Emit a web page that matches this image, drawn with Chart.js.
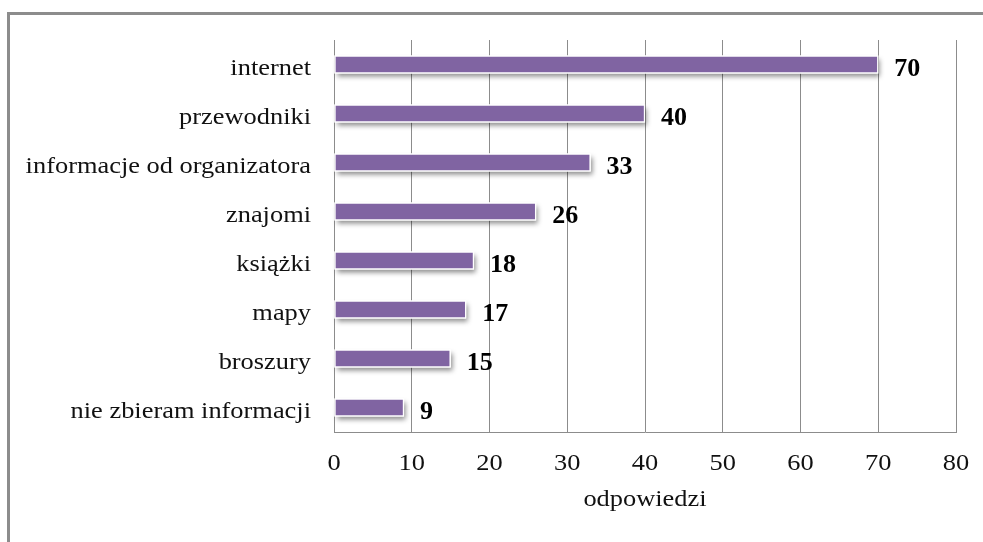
<!DOCTYPE html>
<html>
<head>
<meta charset="utf-8">
<script src="https://cdn.jsdelivr.net/npm/chart.js@4/dist/chart.umd.min.js"></script>
<style>
  html, body { margin: 0; padding: 0; background: #fff; overflow: hidden; }
  #wrap { position: relative; width: 983px; height: 542px; }
  #myChart { position: absolute; left: 0; top: 0; }
  #frame { position: absolute; left: 7px; top: 12px; width: 1000px; height: 600px;
           border-left: 3px solid #8c8c8c; border-top: 3px solid #8c8c8c; pointer-events: none; }
</style>
</head>
<body>
<div id="wrap">
  <canvas id="myChart" width="983" height="542"></canvas>
  <div id="frame"></div>
</div>
<script>
var categories = ['internet', 'przewodniki', 'informacje od organizatora', 'znajomi', 'książki', 'mapy', 'broszury', 'nie zbieram informacji'];
var answers = [70, 40, 33, 26, 18, 17, 15, 9];
var axisTitle = 'odpowiedzi';

var serif = "'Liberation Serif', 'Times New Roman', serif";
var textColor = '#111';
var stretch = 1.1; // the original text is a bit wider than Times

function stretchedText(ctx, text, x, y, sx, align) {
    ctx.save();
    ctx.translate(x, y);
    ctx.scale(sx, 1);
    ctx.textAlign = align;
    ctx.textBaseline = 'alphabetic';
    ctx.fillText(text, 0, 0);
    ctx.restore();
}

// soft shadow under each bar, drawn before the bars themselves
var barShadow = {
    id: 'barShadow',
    beforeDatasetsDraw: function(chart) {
        var ctx = chart.ctx;
        var meta = chart.getDatasetMeta(0);
        ctx.save();
        ctx.shadowColor = 'rgba(0,0,0,0.45)';
        ctx.shadowBlur = 5;
        ctx.shadowOffsetX = 2;
        ctx.shadowOffsetY = 3;
        ctx.fillStyle = '#fff';
        meta.data.forEach(function(bar) {
            var h = bar.height;
            ctx.fillRect(bar.base, bar.y - h / 2, bar.x - bar.base, h);
        });
        ctx.restore();
    }
};

// axis labels, title and bold values
var texts = {
    id: 'texts',
    afterDraw: function(chart) {
        var ctx = chart.ctx;
        var xs = chart.scales.x;
        var ys = chart.scales.y;
        ctx.save();
        ctx.fillStyle = textColor;
        ctx.font = "24px " + serif;
        categories.forEach(function(c, i) {
            stretchedText(ctx, c, ys.right - 23, ys.getPixelForTick(i) + 10, stretch, 'right');
        });
        xs.ticks.forEach(function(t, i) {
            stretchedText(ctx, String(t.value), xs.getPixelForTick(i), xs.top + 38, stretch, 'center');
        });
        stretchedText(ctx, axisTitle, (xs.left + xs.right) / 2, xs.top + 74, stretch, 'center');

        ctx.fillStyle = '#000';
        ctx.font = "bold 26px " + serif;
        chart.getDatasetMeta(0).data.forEach(function(bar, i) {
            stretchedText(ctx, String(answers[i]), bar.x + 16, bar.y + 11, 1, 'left');
        });
        ctx.restore();
    }
};

var ctx = document.getElementById('myChart');
var myChart = new Chart(ctx, {
    type: 'bar',
    data: {
        labels: categories,
        datasets: [{
            data: answers,
            backgroundColor: '#8064a2',
            borderColor: '#ffffff',
            borderWidth: 1.5,
            borderSkipped: false,
            barThickness: 18
        }]
    },
    options: {
        indexAxis: 'y',
        responsive: false,
        animation: false,
        devicePixelRatio: 1,
        layout: { padding: { top: 40, right: 27, left: 0, bottom: 0 } },
        plugins: {
            legend: { display: false },
            tooltip: { enabled: false }
        },
        scales: {
            x: {
                min: 0,
                max: 80,
                ticks: { stepSize: 10, display: false },
                grid: { color: '#8c8c8c', lineWidth: 1, drawTicks: false },
                border: { color: '#8c8c8c', width: 1 },
                afterFit: function(scale) { scale.height = 110; }
            },
            y: {
                ticks: { display: false },
                grid: { display: false, drawTicks: false },
                border: { display: true, color: '#8c8c8c', width: 1 },
                afterFit: function(scale) { scale.width = 334; }
            }
        }
    },
    plugins: [barShadow, texts]
});
</script>
</body>
</html>
